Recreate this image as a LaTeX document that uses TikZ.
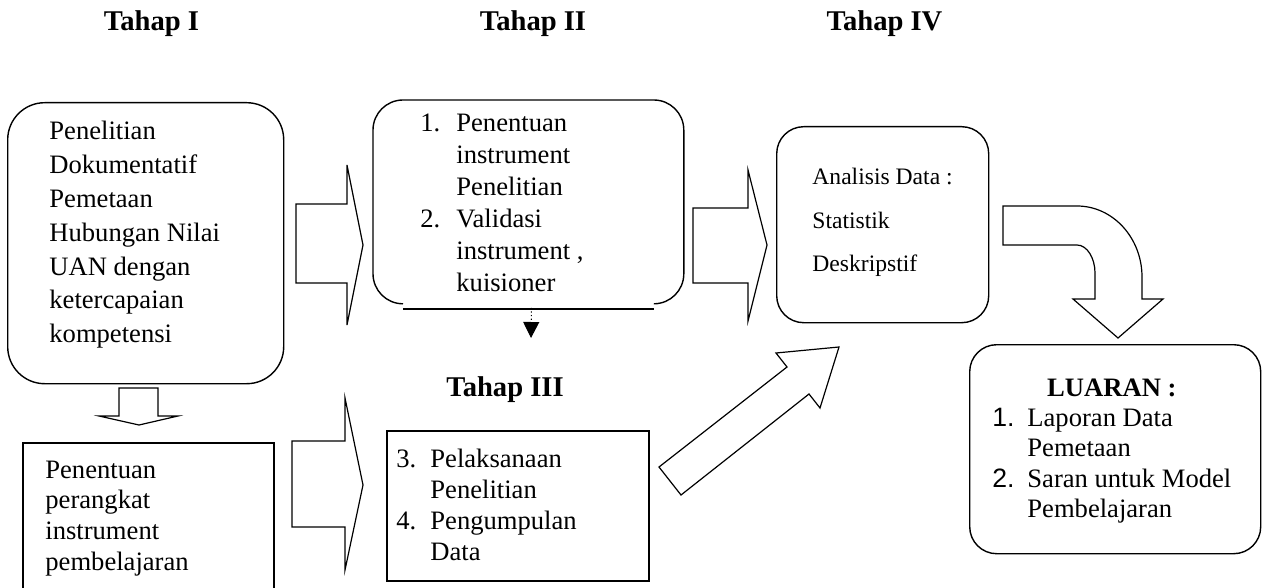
\documentclass[tikz,border=0pt]{standalone}
\usepackage{fontspec}
\setmainfont{Liberation Serif}
\newfontfamily\numfont{Liberation Sans}
\usetikzlibrary{arrows.meta}

\begin{document}
\begin{tikzpicture}[x=0.5pt, y=-0.5pt,
    heading/.style={font=\bfseries\fontsize{14.3}{17}\selectfont, anchor=base, inner sep=0pt},
    roundbox/.style={draw, line width=0.7pt, rounded corners=#1, anchor=north west, inner sep=0pt},
    plainbox/.style={anchor=north west, inner sep=0pt},
    txt/.style={anchor=base west, inner sep=0pt},
    boxline/.style={line width=1pt},
    blockarrow/.style={draw, line width=0.6pt, line join=miter},
    dotarrow/.style={line width=0.5pt, dash pattern=on 0.6pt off 1.2pt, -{Triangle[width=8pt,length=8pt]}}]
    \useasboundingbox (0,0) rectangle (1262,588);

    \node[heading] (tahap1) at (151.5,31) {Tahap I};
    \node[heading] (tahap2) at (533,31) {Tahap II};
    \node[heading] (tahap4) at (884.5,31) {Tahap IV};
    \node[heading] (tahap3) at (505,396) {Tahap III};

    % boxes
    \node[roundbox=18.5pt, minimum width=138pt, minimum height=140.5pt] (dok) at (7,102) {};
    \node[plainbox, minimum width=155pt, minimum height=101.5pt] (instrumen) at (373,100) {};
    \draw[line width=0.7pt, rounded corners=15pt] ([xshift=15pt]instrumen.south west) -- (instrumen.south west)
        -- (instrumen.north west) -- (instrumen.north east) -- (instrumen.south east) -- ([xshift=-15pt]instrumen.south east);
    \draw[line width=0.7pt] ([xshift=15pt,yshift=-2.5pt]instrumen.south west) -- ([xshift=-15pt,yshift=-2.5pt]instrumen.south east);
    \node[roundbox=13.5pt, minimum width=106pt, minimum height=98pt] (analisis) at (776,126) {};
    \node[roundbox=13.5pt, minimum width=145.5pt, minimum height=104.5pt] (luaran) at (969,344) {};
    \node[plainbox, minimum width=125pt, minimum height=80pt] (perangkat) at (23,443) {};
    \draw[boxline] (perangkat.south west) -- (perangkat.north west) -- (perangkat.north east) -- (perangkat.south east);
    \node[plainbox, draw, boxline, minimum width=131pt, minimum height=75pt] (pelaksanaan) at (386,430) {};

    % texts
    \node[txt, font=\fontsize{13.3}{16.9}\selectfont] (doktxt) at (49,140)
        {\begin{tabular}[t]{@{}l@{}}
         Penelitian\\ Dokumentatif\\ Pemetaan\\ Hubungan Nilai\\ UAN dengan\\ ketercapaian\\ kompetensi
         \end{tabular}};
    \node[txt, font=\fontsize{13.3}{16}\selectfont] (instrumentxt) at (420,132)
        {\begin{tabular}[t]{@{}p{18pt}@{}l@{}}
         1. & Penentuan\\ & instrument\\ & Penelitian\\
         2. & Validasi\\ & instrument ,\\ & kuisioner
         \end{tabular}};
    \node[txt, font=\fontsize{11.8}{21.75}\selectfont] (analisistxt) at (812,185)
        {\begin{tabular}[t]{@{}l@{}}
         Analisis Data :\\ Statistik\\ Deskripstif
         \end{tabular}};
    \node[txt, font=\fontsize{13.3}{15.2}\selectfont] (luarantxt) at (992,396)
        {\begin{tabular}[t]{@{}p{17.5pt}@{}l@{}}
         \multicolumn{2}{c}{\bfseries LUARAN :}\\
         {\numfont 1.} & Laporan Data\\ & Pemetaan\\
         {\numfont 2.} & Saran untuk Model\\ & Pembelajaran
         \end{tabular}};
    \node[txt, font=\fontsize{13.3}{15.35}\selectfont] (perangkattxt) at (45,478)
        {\begin{tabular}[t]{@{}l@{}}
         Penentuan\\ perangkat\\ instrument\\ pembelajaran
         \end{tabular}};
    \node[txt, font=\fontsize{13.3}{15.5}\selectfont] (pelaksanaantxt) at (396,467)
        {\begin{tabular}[t]{@{}p{17pt}@{}l@{}}
         3. & Pelaksanaan\\ & Penelitian\\
         4. & Pengumpulan\\ & Data
         \end{tabular}};

    % block arrows
    \draw[blockarrow] (296,204) -- (347,204) -- (347,165) -- (363,245) -- (347,325) -- (347,283) -- (296,283) -- cycle;
    \draw[blockarrow] (693,208) -- (748,208) -- (748,170) -- (767,245) -- (748,321) -- (748,283) -- (693,283) -- cycle;
    \draw[blockarrow] (292,441) -- (345,441) -- (345,398) -- (363,485) -- (345,570) -- (345,527) -- (292,527) -- cycle;
    \draw[blockarrow] (119,388) -- (158,388) -- (158,416) -- (178,416) -- (139,425) -- (99,416) -- (119,416) -- cycle;
    \draw[blockarrow] (659,467) -- (787,367) -- (776,353) -- (839,347) -- (820,408) -- (809,394) -- (681,495) -- cycle;
    \draw[blockarrow] (1003,206) -- (1077,206) .. controls (1113,206) and (1142,238) .. (1142,277) -- (1142,299)
        -- (1163,299) -- (1118,338) -- (1073,299) -- (1095,299) -- (1095,273)
        .. controls (1095,258) and (1087,245) .. (1077,245) -- (1003,245) -- cycle;

    \coordinate (dotend) at (531,338);
    \draw[dotarrow] ([xshift=1.5pt,yshift=-2pt]instrumen.south) -- (dotend);
\end{tikzpicture}
\end{document}
